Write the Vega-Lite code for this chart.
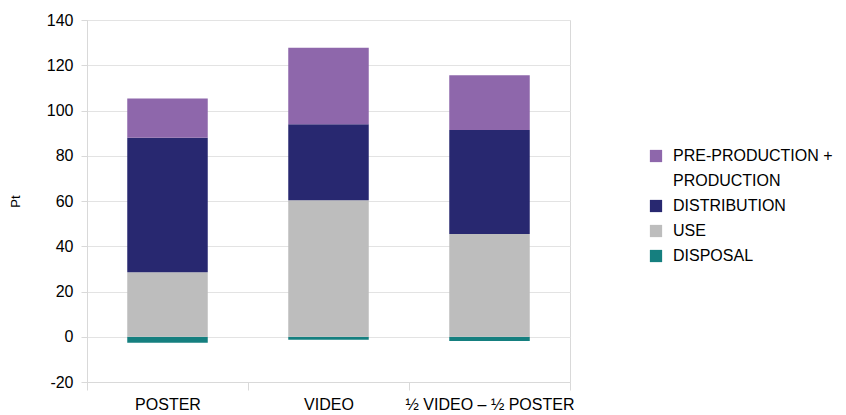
{
  "$schema": "https://vega.github.io/schema/vega-lite/v6.json",
  "width": 483,
  "height": 362,
  "autosize": {"type": "none"},
  "padding": {"left": 87, "top": 20, "right": 276, "bottom": 33},
  "background": "white",
  "config": {
    "font": "Liberation Sans",
    "view": {"stroke": "#d9d9d9", "strokeWidth": 1},
    "axis": {"labelFont": "Liberation Sans", "titleFont": "Liberation Sans", "labelColor": "#000000", "titleColor": "#000000"}
  },
  "data": {
    "values": [
      {"product": "POSTER", "component": "DISPOSAL", "pt": -2.6},
      {"product": "POSTER", "component": "USE", "pt": 28.5},
      {"product": "POSTER", "component": "DISTRIBUTION", "pt": 59.5},
      {"product": "POSTER", "component": "PRE-PRODUCTION + PRODUCTION", "pt": 17.3},
      {"product": "VIDEO", "component": "DISPOSAL", "pt": -1.3},
      {"product": "VIDEO", "component": "USE", "pt": 60.3},
      {"product": "VIDEO", "component": "DISTRIBUTION", "pt": 33.6},
      {"product": "VIDEO", "component": "PRE-PRODUCTION + PRODUCTION", "pt": 33.8},
      {"product": "½ VIDEO – ½ POSTER", "component": "DISPOSAL", "pt": -1.9},
      {"product": "½ VIDEO – ½ POSTER", "component": "USE", "pt": 45.4},
      {"product": "½ VIDEO – ½ POSTER", "component": "DISTRIBUTION", "pt": 46.0},
      {"product": "½ VIDEO – ½ POSTER", "component": "PRE-PRODUCTION + PRODUCTION", "pt": 24.2}
    ]
  },
  "transform": [
    {"calculate": "indexof(['DISPOSAL','USE','DISTRIBUTION','PRE-PRODUCTION + PRODUCTION'], datum.component)", "as": "stackOrder"}
  ],
  "mark": {"type": "bar", "width": {"band": 0.5}},
  "encoding": {
    "x": {
      "field": "product",
      "type": "nominal",
      "sort": ["POSTER", "VIDEO", "½ VIDEO – ½ POSTER"],
      "scale": {"paddingInner": 0, "paddingOuter": 0},
      "axis": {
        "title": null,
        "labelAngle": 0,
        "labelFontSize": 16,
        "labelPadding": 6,
        "tickBand": "extent",
        "tickSize": 8,
        "tickColor": "#d9d9d9",
        "domainColor": "#d9d9d9",
        "grid": false
      }
    },
    "y": {
      "field": "pt",
      "type": "quantitative",
      "stack": "zero",
      "scale": {"domain": [-20, 140], "nice": false},
      "axis": {
        "title": "Pt",
        "titleFontSize": 13,
        "titleFontWeight": "normal",
        "titlePadding": 24,
        "values": [-20, 0, 20, 40, 60, 80, 100, 120, 140],
        "labelExpr": "datum.value < 0 ? '-' + abs(datum.value) : datum.label",
        "labelFontSize": 16,
        "labelPadding": 8,
        "tickSize": 6,
        "tickColor": "#d9d9d9",
        "domainColor": "#d9d9d9",
        "gridColor": "#e3e3e3"
      }
    },
    "color": {
      "field": "component",
      "type": "nominal",
      "scale": {
        "domain": ["PRE-PRODUCTION + PRODUCTION", "DISTRIBUTION", "USE", "DISPOSAL"],
        "range": ["#8e67ab", "#282870", "#bdbdbd", "#157f7f"]
      },
      "legend": {
        "title": null,
        "orient": "none",
        "legendX": 561,
        "legendY": 128,
        "symbolType": "square",
        "symbolSize": 150,
        "symbolStrokeWidth": 0,
        "labelFontSize": 16,
        "labelColor": "#000000",
        "labelLimit": 300,
        "labelOffset": 9,
        "rowPadding": 9,
        "labelExpr": "datum.label == 'PRE-PRODUCTION + PRODUCTION' ? ['PRE-PRODUCTION +', 'PRODUCTION'] : datum.label",
        "encode": {"labels": {"update": {"lineHeight": {"value": 25}}}}
      }
    },
    "order": {"field": "stackOrder", "type": "quantitative"}
  }
}
